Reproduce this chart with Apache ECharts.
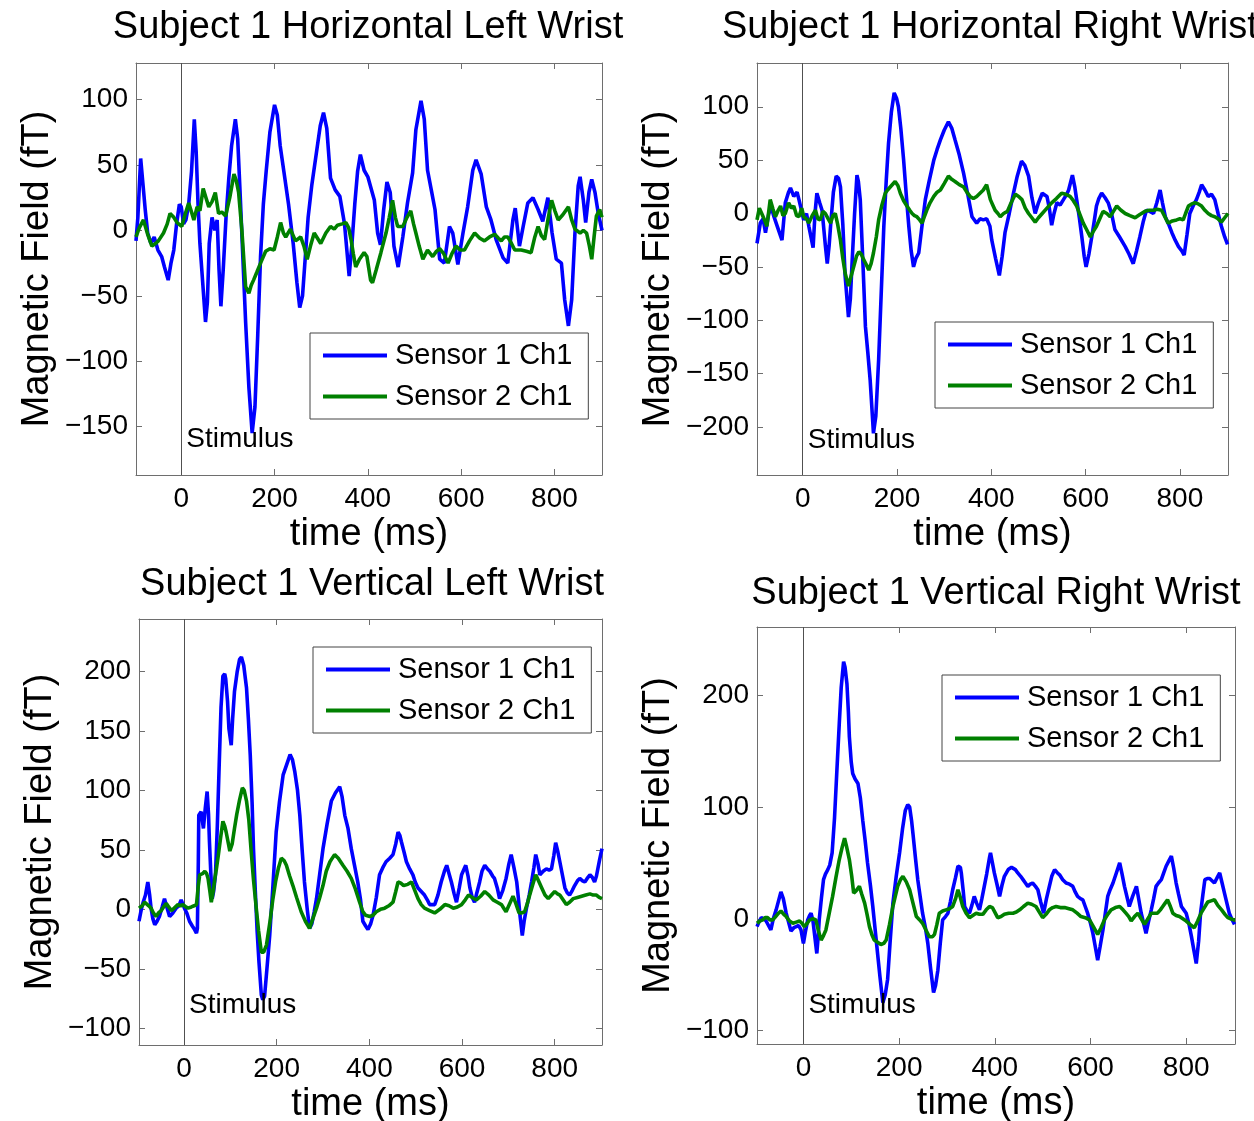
<!DOCTYPE html>
<html>
<head>
<meta charset="utf-8">
<script src="https://cdn.jsdelivr.net/npm/echarts@6/dist/echarts.min.js"></script>
<style>
  html, body { margin: 0; padding: 0; background: #fff; }
  #chart { width: 1254px; height: 1121px; }
</style>
</head>
<body>
<div id="chart"></div>
<script>
// ---- shared axis content ----
const seriesNames = ['Sensor 1 Ch1', 'Sensor 2 Ch1'];
const timeTicks = [0, 200, 400, 600, 800];
const timeRange = [-97, 902];

// ---- Subject 1, horizontal, left wrist: [time ms, field fT] ----
const hlS1 = [[-97,-8],[-93,10],[-87,55],[-82,35],[-77,15],[-72,-2],[-65,-10],[-58,-5],[-50,-15],[-42,-20],[-36,-28],[-28,-38],[-22,-25],[-16,-15],[-10,5],[-4,20],[0,18],[5,5],[10,8],[16,20],[22,45],[28,85],[32,60],[36,20],[40,-10],[46,-40],[52,-70],[56,-55],[60,-10],[66,10],[72,0],[77,8],[81,-30],[85,-58],[90,-30],[96,10],[102,40],[108,65],[116,85],[121,70],[126,30],[132,-20],[138,-70],[145,-120],[152,-155],[158,-135],[164,-80],[170,-20],[176,20],[182,45],[190,75],[200,96],[206,88],[212,65],[220,45],[230,20],[240,-10],[248,-40],[254,-59],[260,-50],[266,-20],[272,10],[280,35],[290,60],[298,80],[305,90],[312,78],[320,40],[330,31],[340,26],[350,5],[360,-35],[366,-10],[372,20],[378,45],[384,58],[392,46],[400,41],[414,23],[421,-2],[427,-11],[434,16],[441,37],[448,29],[456,-12],[465,-28],[475,-5],[485,21],[496,44],[503,77],[514,99],[521,85],[528,46],[536,31],[544,16],[554,-22],[564,-25],[575,3],[582,-2],[593,-26],[604,-2],[614,18],[625,46],[632,54],[643,43],[654,18],[664,8],[675,-7],[690,-21],[700,-25],[711,8],[716,17],[725,-12],[733,3],[743,21],[754,25],[765,16],[775,7],[786,25],[795,-2],[804,-22],[815,-25],[822,-53],[830,-73],[837,-53],[844,-2],[851,34],[855,41],[862,23],[867,6],[874,29],[880,39],[887,29],[894,13],[902,0]];
const hlS2 = [[-97,-5],[-90,2],[-81,8],[-72,-3],[-63,-12],[-55,-10],[-49,-8],[-38,-2],[-30,5],[-24,13],[-16,10],[-9,6],[1,3],[8,12],[16,21],[22,14],[27,8],[34,18],[40,15],[47,32],[53,25],[59,18],[66,22],[73,29],[80,13],[87,14],[95,11],[104,25],[113,43],[118,38],[123,29],[130,0],[138,-43],[145,-48],[150,-42],[155,-38],[162,-32],[170,-25],[181,-16],[190,-14],[199,-15],[206,-5],[213,6],[219,-2],[224,-5],[234,1],[245,-8],[256,-5],[263,-12],[270,-22],[277,-12],[285,-2],[292,-6],[299,-10],[310,-2],[320,3],[328,1],[335,4],[345,5],[353,6],[359,2],[364,-7],[369,-18],[374,-28],[382,-22],[392,-17],[398,-20],[406,-38],[410,-40],[418,-30],[428,-17],[439,-2],[446,10],[453,23],[459,10],[464,3],[475,3],[484,10],[492,15],[498,5],[503,-2],[510,-12],[518,-22],[528,-15],[539,-20],[547,-16],[554,-14],[563,-18],[572,-25],[580,-18],[589,-12],[598,-15],[607,-15],[618,-8],[629,-2],[640,-6],[650,-8],[661,-5],[672,-3],[680,-6],[686,-8],[693,-5],[700,-5],[708,-10],[715,-15],[722,-15],[729,-15],[740,-16],[750,-17],[758,-5],[765,3],[772,-4],[779,-7],[786,8],[794,23],[801,15],[808,8],[818,12],[830,18],[837,8],[844,1],[855,-2],[862,0],[869,-2],[875,-12],[880,-22],[885,-5],[890,11],[897,16],[902,10]];

// ---- Subject 1, horizontal, right wrist ----
const hrS1 = [[-97,-28],[-90,-9],[-84,-5],[-79,-18],[-72,0],[-66,5],[-61,-3],[-54,-12],[-44,-25],[-37,10],[-30,20],[-26,24],[-19,16],[-12,20],[-8,13],[2,-6],[8,0],[13,-12],[22,-32],[26,0],[30,19],[36,10],[41,3],[48,-30],[52,-47],[56,-30],[59,-12],[65,20],[71,35],[76,33],[80,25],[85,-10],[90,-59],[97,-97],[101,-80],[105,-43],[110,0],[115,36],[118,30],[122,13],[128,-50],[133,-106],[138,-130],[143,-156],[150,-206],[155,-190],[161,-137],[166,-80],[172,-12],[177,30],[182,66],[188,95],[194,113],[199,108],[203,100],[208,80],[214,50],[220,15],[225,-12],[230,-35],[235,-50],[240,-42],[246,-37],[252,-15],[260,13],[268,30],[278,50],[285,60],[292,69],[300,78],[309,86],[316,80],[323,69],[332,55],[341,38],[350,18],[359,-3],[369,-9],[376,-5],[383,-6],[390,-5],[397,-12],[401,-25],[409,-42],[417,-58],[423,-40],[429,-18],[438,0],[447,19],[455,35],[464,49],[471,45],[479,35],[486,15],[493,0],[500,10],[508,19],[518,16],[523,5],[528,-11],[533,0],[539,10],[546,8],[553,13],[560,18],[564,22],[572,36],[577,25],[581,13],[587,-5],[592,-22],[597,-40],[601,-50],[607,-38],[613,-22],[618,-8],[623,7],[628,14],[634,19],[641,15],[648,10],[655,0],[662,-15],[672,-22],[684,-31],[692,-38],[701,-47],[708,-35],[715,-22],[722,-8],[729,3],[736,2],[744,0],[751,10],[758,22],[763,10],[769,-3],[776,-10],[783,-18],[790,-25],[797,-31],[804,-35],[809,-39],[815,-20],[821,0],[828,7],[835,13],[841,20],[846,27],[853,22],[860,16],[867,18],[874,13],[881,0],[888,-12],[895,-22],[901,-29]];
const hrS2 = [[-97,-6],[-92,5],[-87,0],[-81,-6],[-76,-12],[-69,13],[-63,4],[-58,-3],[-52,3],[-47,7],[-42,-2],[-37,0],[-30,10],[-24,5],[-19,7],[-13,-2],[-8,-3],[-2,5],[2,-3],[8,-5],[13,-9],[20,-2],[27,3],[32,-5],[37,-6],[43,2],[48,0],[54,-5],[59,-9],[64,-2],[69,0],[74,-10],[80,-25],[85,-42],[90,-56],[97,-68],[103,-58],[108,-50],[114,-40],[119,-36],[124,-38],[129,-43],[135,-48],[140,-53],[145,-47],[150,-37],[156,-22],[161,-6],[168,8],[175,19],[180,22],[186,25],[196,30],[202,26],[207,19],[214,12],[221,7],[227,3],[232,0],[237,-2],[242,-3],[248,-6],[253,-9],[258,-3],[263,3],[270,10],[278,16],[285,20],[292,22],[300,28],[309,35],[316,32],[323,30],[332,27],[341,25],[348,20],[355,16],[362,14],[369,16],[376,19],[383,22],[390,27],[394,28],[398,13],[403,8],[408,3],[414,0],[419,-3],[426,0],[434,2],[442,10],[451,18],[458,16],[465,13],[472,5],[479,0],[486,-4],[493,-8],[500,-4],[508,0],[518,5],[528,10],[538,14],[549,19],[558,18],[567,16],[574,12],[581,7],[588,-1],[595,-9],[602,-15],[610,-22],[616,-17],[623,-12],[630,-5],[637,2],[645,0],[652,-3],[659,2],[666,7],[675,3],[684,0],[694,-2],[705,-4],[715,-1],[726,2],[735,3],[744,3],[752,4],[761,3],[768,-3],[775,-9],[784,-7],[793,-6],[800,-5],[807,-6],[812,0],[818,7],[825,9],[832,10],[839,9],[846,7],[853,3],[860,0],[867,-2],[874,-3],[881,-5],[888,-8],[895,-4],[902,0]];

// ---- Subject 1, vertical, left wrist ----
const vlS1 = [[-97,-10],[-92,0],[-88,6],[-83,12],[-78,23],[-74,12],[-71,1],[-67,-8],[-63,-13],[-58,-10],[-53,-6],[-47,2],[-42,9],[-37,2],[-31,-6],[-24,-3],[-17,1],[-11,3],[-6,8],[-2,4],[1,1],[6,-3],[12,-10],[18,-14],[23,-17],[27,-20],[29,-16],[31,40],[32,79],[37,82],[42,68],[46,85],[50,99],[53,80],[55,57],[58,30],[61,9],[64,15],[68,29],[72,70],[76,121],[80,170],[84,196],[88,198],[90,194],[94,175],[97,152],[102,138],[105,160],[109,183],[115,200],[120,210],[124,212],[129,205],[135,186],[139,160],[143,130],[147,90],[150,51],[154,15],[158,-19],[162,-45],[167,-72],[170,-76],[174,-73],[179,-50],[185,-22],[192,20],[199,65],[206,90],[214,113],[222,122],[229,130],[234,126],[239,116],[245,100],[250,79],[255,50],[260,23],[266,0],[271,-16],[276,-12],[281,-2],[286,9],[293,30],[300,51],[309,72],[318,91],[327,98],[336,103],[341,95],[347,79],[354,68],[361,51],[368,37],[375,23],[381,8],[386,-10],[392,-14],[397,-17],[403,-12],[408,-5],[415,10],[422,29],[429,35],[436,40],[444,43],[451,46],[457,55],[462,65],[466,62],[469,57],[475,48],[480,40],[487,34],[494,29],[499,23],[505,18],[512,15],[519,12],[525,8],[530,4],[536,4],[541,4],[548,12],[555,23],[562,32],[567,37],[572,30],[577,23],[583,13],[588,6],[594,18],[599,29],[608,37],[613,28],[617,18],[622,10],[627,6],[632,14],[638,23],[643,32],[649,37],[655,34],[660,32],[666,28],[670,26],[676,18],[681,9],[688,16],[695,26],[701,38],[706,46],[712,35],[718,23],[722,8],[725,-5],[728,-15],[730,-22],[734,-10],[739,1],[745,12],[750,23],[755,35],[759,46],[764,38],[768,29],[775,32],[782,34],[788,33],[793,34],[798,45],[802,56],[807,48],[811,40],[817,28],[822,18],[827,14],[832,12],[838,16],[843,20],[849,24],[854,26],[860,24],[865,23],[870,26],[876,29],[881,27],[886,23],[890,28],[893,34],[897,42],[902,51]];
const vlS2 = [[-97,1],[-90,3],[-85,6],[-81,5],[-76,3],[-71,1],[-66,-3],[-60,-6],[-55,-3],[-49,-1],[-44,2],[-38,5],[-33,2],[-27,-1],[-21,1],[-13,4],[-7,3],[-2,4],[4,2],[9,1],[16,2],[22,3],[27,4],[31,20],[34,29],[40,30],[45,32],[49,30],[52,26],[56,15],[59,6],[63,15],[67,27],[70,34],[74,45],[79,60],[84,74],[88,70],[91,65],[96,55],[99,49],[104,55],[109,68],[114,80],[120,92],[126,102],[130,100],[135,91],[140,75],[145,49],[150,25],[156,1],[161,-18],[167,-36],[172,-36],[178,-30],[185,-12],[192,9],[198,24],[204,35],[210,43],[216,41],[221,37],[228,28],[235,20],[243,10],[253,-2],[262,-10],[271,-16],[278,-8],[286,1],[293,10],[300,20],[307,32],[315,40],[325,46],[333,43],[343,37],[352,32],[361,26],[370,17],[379,6],[386,-2],[392,-5],[401,-6],[408,-5],[415,-2],[424,0],[433,1],[442,3],[451,6],[457,15],[462,23],[468,22],[474,20],[483,21],[491,23],[498,16],[505,9],[512,4],[519,1],[530,-1],[541,-3],[552,0],[563,4],[572,3],[581,1],[590,2],[599,4],[607,8],[614,12],[622,10],[631,8],[640,11],[649,15],[658,12],[667,8],[676,6],[685,4],[690,1],[695,-2],[703,5],[710,11],[716,5],[723,-3],[729,-3],[735,-2],[741,5],[746,12],[752,20],[759,29],[765,24],[772,18],[779,12],[786,9],[793,12],[800,15],[806,13],[811,12],[818,8],[825,4],[832,6],[840,9],[849,10],[858,11],[867,12],[876,13],[883,12],[890,12],[896,10],[902,9]];

// ---- Subject 1, vertical, right wrist ----
const vrS1 = [[-97,-7],[-92,-2],[-88,1],[-83,0],[-78,-2],[-73,-6],[-68,-10],[-63,0],[-57,8],[-52,16],[-47,24],[-42,18],[-36,5],[-31,-3],[-26,-11],[-20,-8],[-15,-7],[-10,-6],[-5,-10],[0,-22],[4,-12],[9,-1],[13,3],[16,5],[20,-2],[23,-13],[28,-31],[31,-15],[33,-1],[38,20],[42,35],[46,40],[51,44],[55,48],[60,59],[65,90],[70,133],[75,175],[79,207],[84,230],[87,225],[91,210],[94,185],[96,163],[100,140],[103,130],[108,125],[114,121],[119,108],[124,88],[129,70],[134,50],[140,30],[145,11],[150,-10],[155,-31],[160,-52],[166,-75],[171,-68],[176,-54],[181,-22],[187,14],[194,38],[201,59],[207,80],[213,97],[218,102],[222,100],[226,88],[229,76],[234,55],[239,35],[244,20],[249,5],[255,-8],[260,-22],[266,-45],[272,-66],[276,-60],[281,-46],[286,-22],[291,-1],[297,2],[302,5],[307,15],[312,26],[318,37],[323,47],[328,46],[330,41],[334,25],[337,11],[342,7],[347,5],[352,12],[357,20],[362,14],[368,8],[373,18],[378,29],[383,40],[389,55],[391,59],[395,50],[399,41],[405,30],[410,20],[415,30],[420,38],[428,44],[435,46],[438,47],[443,44],[448,41],[454,38],[459,35],[464,32],[469,29],[474,31],[479,32],[485,29],[490,26],[496,15],[502,5],[508,18],[514,29],[519,38],[525,44],[531,41],[536,39],[542,35],[549,32],[556,31],[563,29],[568,24],[573,20],[579,18],[584,17],[589,11],[594,5],[600,-4],[605,-13],[610,-25],[615,-37],[620,-25],[626,-10],[631,5],[636,20],[641,26],[647,32],[654,41],[661,50],[666,40],[671,29],[676,20],[681,11],[688,20],[696,29],[701,17],[706,5],[711,-4],[716,-13],[721,-3],[727,8],[732,18],[737,29],[742,32],[748,35],[753,41],[758,47],[764,52],[769,56],[774,45],[779,32],[784,22],[790,11],[795,8],[800,5],[806,-5],[811,-16],[816,-28],[821,-40],[826,-20],[830,5],[835,22],[839,35],[844,36],[849,36],[854,34],[859,32],[865,37],[870,41],[875,32],[880,23],[885,14],[890,5],[895,0],[901,-5]];
const vrS2 = [[-97,-4],[-91,-2],[-85,-1],[-80,1],[-75,1],[-70,-1],[-64,-1],[-58,2],[-52,5],[-47,7],[-41,4],[-36,2],[-29,-2],[-22,-4],[-15,-3],[-8,-2],[-3,-4],[2,-7],[8,-4],[13,-1],[20,0],[26,-1],[31,-10],[37,-19],[42,-15],[47,-10],[54,5],[61,20],[68,37],[75,53],[81,64],[86,72],[90,65],[96,53],[101,38],[105,23],[110,25],[117,29],[122,22],[128,14],[133,4],[138,-7],[143,-14],[148,-19],[155,-21],[162,-23],[168,-22],[173,-19],[180,-5],[187,11],[192,20],[197,29],[203,35],[208,38],[215,33],[222,26],[229,14],[236,2],[243,-1],[249,-4],[256,-10],[263,-16],[270,-16],[274,-14],[279,-5],[284,5],[291,7],[298,8],[305,9],[312,11],[318,18],[323,26],[328,19],[333,11],[340,5],[347,1],[354,3],[361,5],[368,4],[375,4],[382,8],[389,11],[395,10],[400,6],[406,1],[413,2],[420,4],[429,5],[438,5],[445,6],[452,8],[460,11],[469,14],[477,13],[486,11],[493,6],[500,1],[507,4],[514,8],[521,10],[528,11],[537,10],[546,10],[555,9],[563,8],[572,5],[580,2],[589,1],[598,-1],[606,-7],[615,-14],[622,-8],[629,-1],[636,4],[643,8],[652,10],[661,11],[668,8],[674,5],[680,2],[685,-2],[692,2],[699,5],[706,0],[713,-5],[720,0],[727,5],[734,5],[740,5],[746,8],[751,11],[756,14],[761,17],[767,11],[772,5],[779,3],[786,2],[793,0],[800,-2],[808,-5],[817,-8],[824,-2],[831,5],[838,10],[845,15],[852,16],[859,17],[866,12],[874,8],[881,4],[887,1],[893,0],[899,-1],[902,-1]];

// ---- y-axis tick labels per panel ----
const hlTicks = [-150, -100, -50, 0, 50, 100];
const hrTicks = [-200, -150, -100, -50, 0, 50, 100];
const vlTicks = [-100, -50, 0, 50, 100, 150, 200];
const vrTicks = [-100, 0, 100, 200];

// ---- panel definitions (data + layout) ----
const FONT = '"Liberation Sans", Arial, Helvetica, sans-serif';
const panels = [
  { title: 'Subject 1 Horizontal Left Wrist', s1: hlS1, s2: hlS2, ticks: hlTicks, yRange: [-187, 128], step: 50,
    grid: { left: 136, top: 63, width: 466, height: 412 },
    legend: { left: 310, top: 333 }, stimOffset: -36,
    titlePos: { x: 368, y: 28, align: 'center' } },
  { title: 'Subject 1 Horizontal Right Wrist', s1: hrS1, s2: hrS2, ticks: hrTicks, yRange: [-245, 141], step: 50,
    grid: { left: 757, top: 63, width: 471, height: 412 },
    legend: { left: 935, top: 322 }, stimOffset: -35,
    titlePos: { x: 722, y: 28, align: 'left' } },
  { title: 'Subject 1 Vertical Left Wrist', s1: vlS1, s2: vlS2, ticks: vlTicks, yRange: [-114, 244], step: 50,
    grid: { left: 139, top: 619, width: 463, height: 426 },
    legend: { left: 313, top: 647 }, stimOffset: -40,
    titlePos: { x: 372, y: 585, align: 'center' } },
  { title: 'Subject 1 Vertical Right Wrist', s1: vrS1, s2: vrS2, ticks: vrTicks, yRange: [-112, 261], step: 100,
    grid: { left: 757, top: 627, width: 478, height: 417 },
    legend: { left: 942, top: 675 }, stimOffset: -39,
    titlePos: { x: 996, y: 594, align: 'center' } }
];

const AXIS_COLOR = '#6e6e6e';
const minus = v => String(v).replace('-', '\u2212');

function labelFormatter(list) {
  return v => (list.indexOf(Math.round(v)) >= 0 && Math.abs(v - Math.round(v)) < 1e-6) ? minus(Math.round(v)) : '';
}

const grids = [], xAxes = [], yAxes = [], series = [], legends = [], graphics = [];

panels.forEach((p, i) => {
  grids.push(Object.assign({ show: false, outerBoundsMode: 'none', containLabel: false }, p.grid));

  const baseLine = { show: true, onZero: false, lineStyle: { color: AXIS_COLOR, width: 1 } };
  const baseTick = { show: true, inside: true, length: 6, lineStyle: { color: AXIS_COLOR, width: 1 } };

  // bottom time axis
  xAxes.push({
    type: 'value', gridIndex: i, position: 'bottom',
    min: timeRange[0], max: timeRange[1], minInterval: 200, maxInterval: 200,
    axisLine: baseLine, axisTick: baseTick, splitLine: { show: false },
    axisLabel: { show: true, margin: 10, fontSize: 28, color: '#000', fontFamily: FONT,
                 showMinLabel: false, showMaxLabel: false, formatter: labelFormatter(timeTicks) },
    name: 'time (ms)', nameLocation: 'middle', nameGap: 41,
    nameTextStyle: { fontSize: 38, color: '#000', fontFamily: FONT }
  });
  // top mirror (box + ticks)
  xAxes.push({
    type: 'value', gridIndex: i, position: 'top',
    min: timeRange[0], max: timeRange[1], minInterval: 200, maxInterval: 200,
    axisLine: baseLine, axisTick: baseTick, splitLine: { show: false }, axisLabel: { show: false }
  });
  // left field axis
  yAxes.push({
    type: 'value', gridIndex: i, position: 'left',
    min: p.yRange[0], max: p.yRange[1], minInterval: p.step, maxInterval: p.step,
    axisLine: baseLine, axisTick: baseTick, splitLine: { show: false },
    axisLabel: { show: true, margin: 8, fontSize: 28, color: '#000', fontFamily: FONT,
                 showMinLabel: false, showMaxLabel: false, formatter: labelFormatter(p.ticks) },
    name: 'Magnetic Field (fT)', nameLocation: 'middle', nameGap: 79,
    nameTextStyle: { fontSize: 38, color: '#000', fontFamily: FONT }
  });
  // right mirror
  yAxes.push({
    type: 'value', gridIndex: i, position: 'right',
    min: p.yRange[0], max: p.yRange[1], minInterval: p.step, maxInterval: p.step,
    axisLine: baseLine, axisTick: baseTick, splitLine: { show: false }, axisLabel: { show: false }
  });

  const xi = 2 * i, yi = 2 * i;
  series.push({
    name: seriesNames[0], type: 'line', xAxisIndex: xi, yAxisIndex: yi,
    data: p.s1, showSymbol: false, symbol: 'none', z: 2,
    lineStyle: { color: '#0000ff', width: 3.6 }, itemStyle: { color: '#0000ff' },
    emphasis: { disabled: true },
    markLine: {
      silent: true, symbol: ['none', 'none'], z: 1,
      lineStyle: { color: '#505050', width: 1, type: 'solid' },
      label: { show: false },
      data: [{ xAxis: 0 }]
    },
    markPoint: {
      silent: true, symbol: 'circle', symbolSize: 0,
      itemStyle: { color: 'rgba(0,0,0,0)' },
      label: { show: true, position: 'right', distance: 5, offset: [0, p.stimOffset],
               formatter: 'Stimulus', fontSize: 28, color: '#000', fontFamily: FONT },
      data: [{ coord: [0, p.yRange[0]] }]
    }
  });
  series.push({
    name: seriesNames[1], type: 'line', xAxisIndex: xi, yAxisIndex: yi,
    data: p.s2, showSymbol: false, symbol: 'none', z: 3,
    lineStyle: { color: '#008000', width: 3.6 }, itemStyle: { color: '#008000' },
    emphasis: { disabled: true }
  });

  legends.push({
    data: seriesNames, orient: 'vertical', left: p.legend.left, top: p.legend.top,
    icon: 'rect', itemWidth: 64, itemHeight: 4, itemGap: 12,
    padding: [8, 16, 8, 13], backgroundColor: '#fff', borderColor: '#444', borderWidth: 1,
    selectedMode: false,
    textStyle: { fontSize: 29, color: '#000', fontFamily: FONT, padding: [0, 0, 0, 3] }
  });

  graphics.push({
    type: 'text', x: p.titlePos.x, y: p.titlePos.y, silent: true,
    style: { text: p.title, font: '38px ' + FONT, fill: '#000',
             align: p.titlePos.align, textAlign: p.titlePos.align,
             verticalAlign: 'middle', textVerticalAlign: 'middle' }
  });
});

const chart = echarts.init(document.getElementById('chart'), null, { renderer: 'canvas' });
chart.setOption({
  animation: false,
  backgroundColor: '#fff',
  textStyle: { fontFamily: FONT },
  grid: grids,
  xAxis: xAxes,
  yAxis: yAxes,
  legend: legends,
  series: series,
  graphic: graphics
});
</script>
</body>
</html>
